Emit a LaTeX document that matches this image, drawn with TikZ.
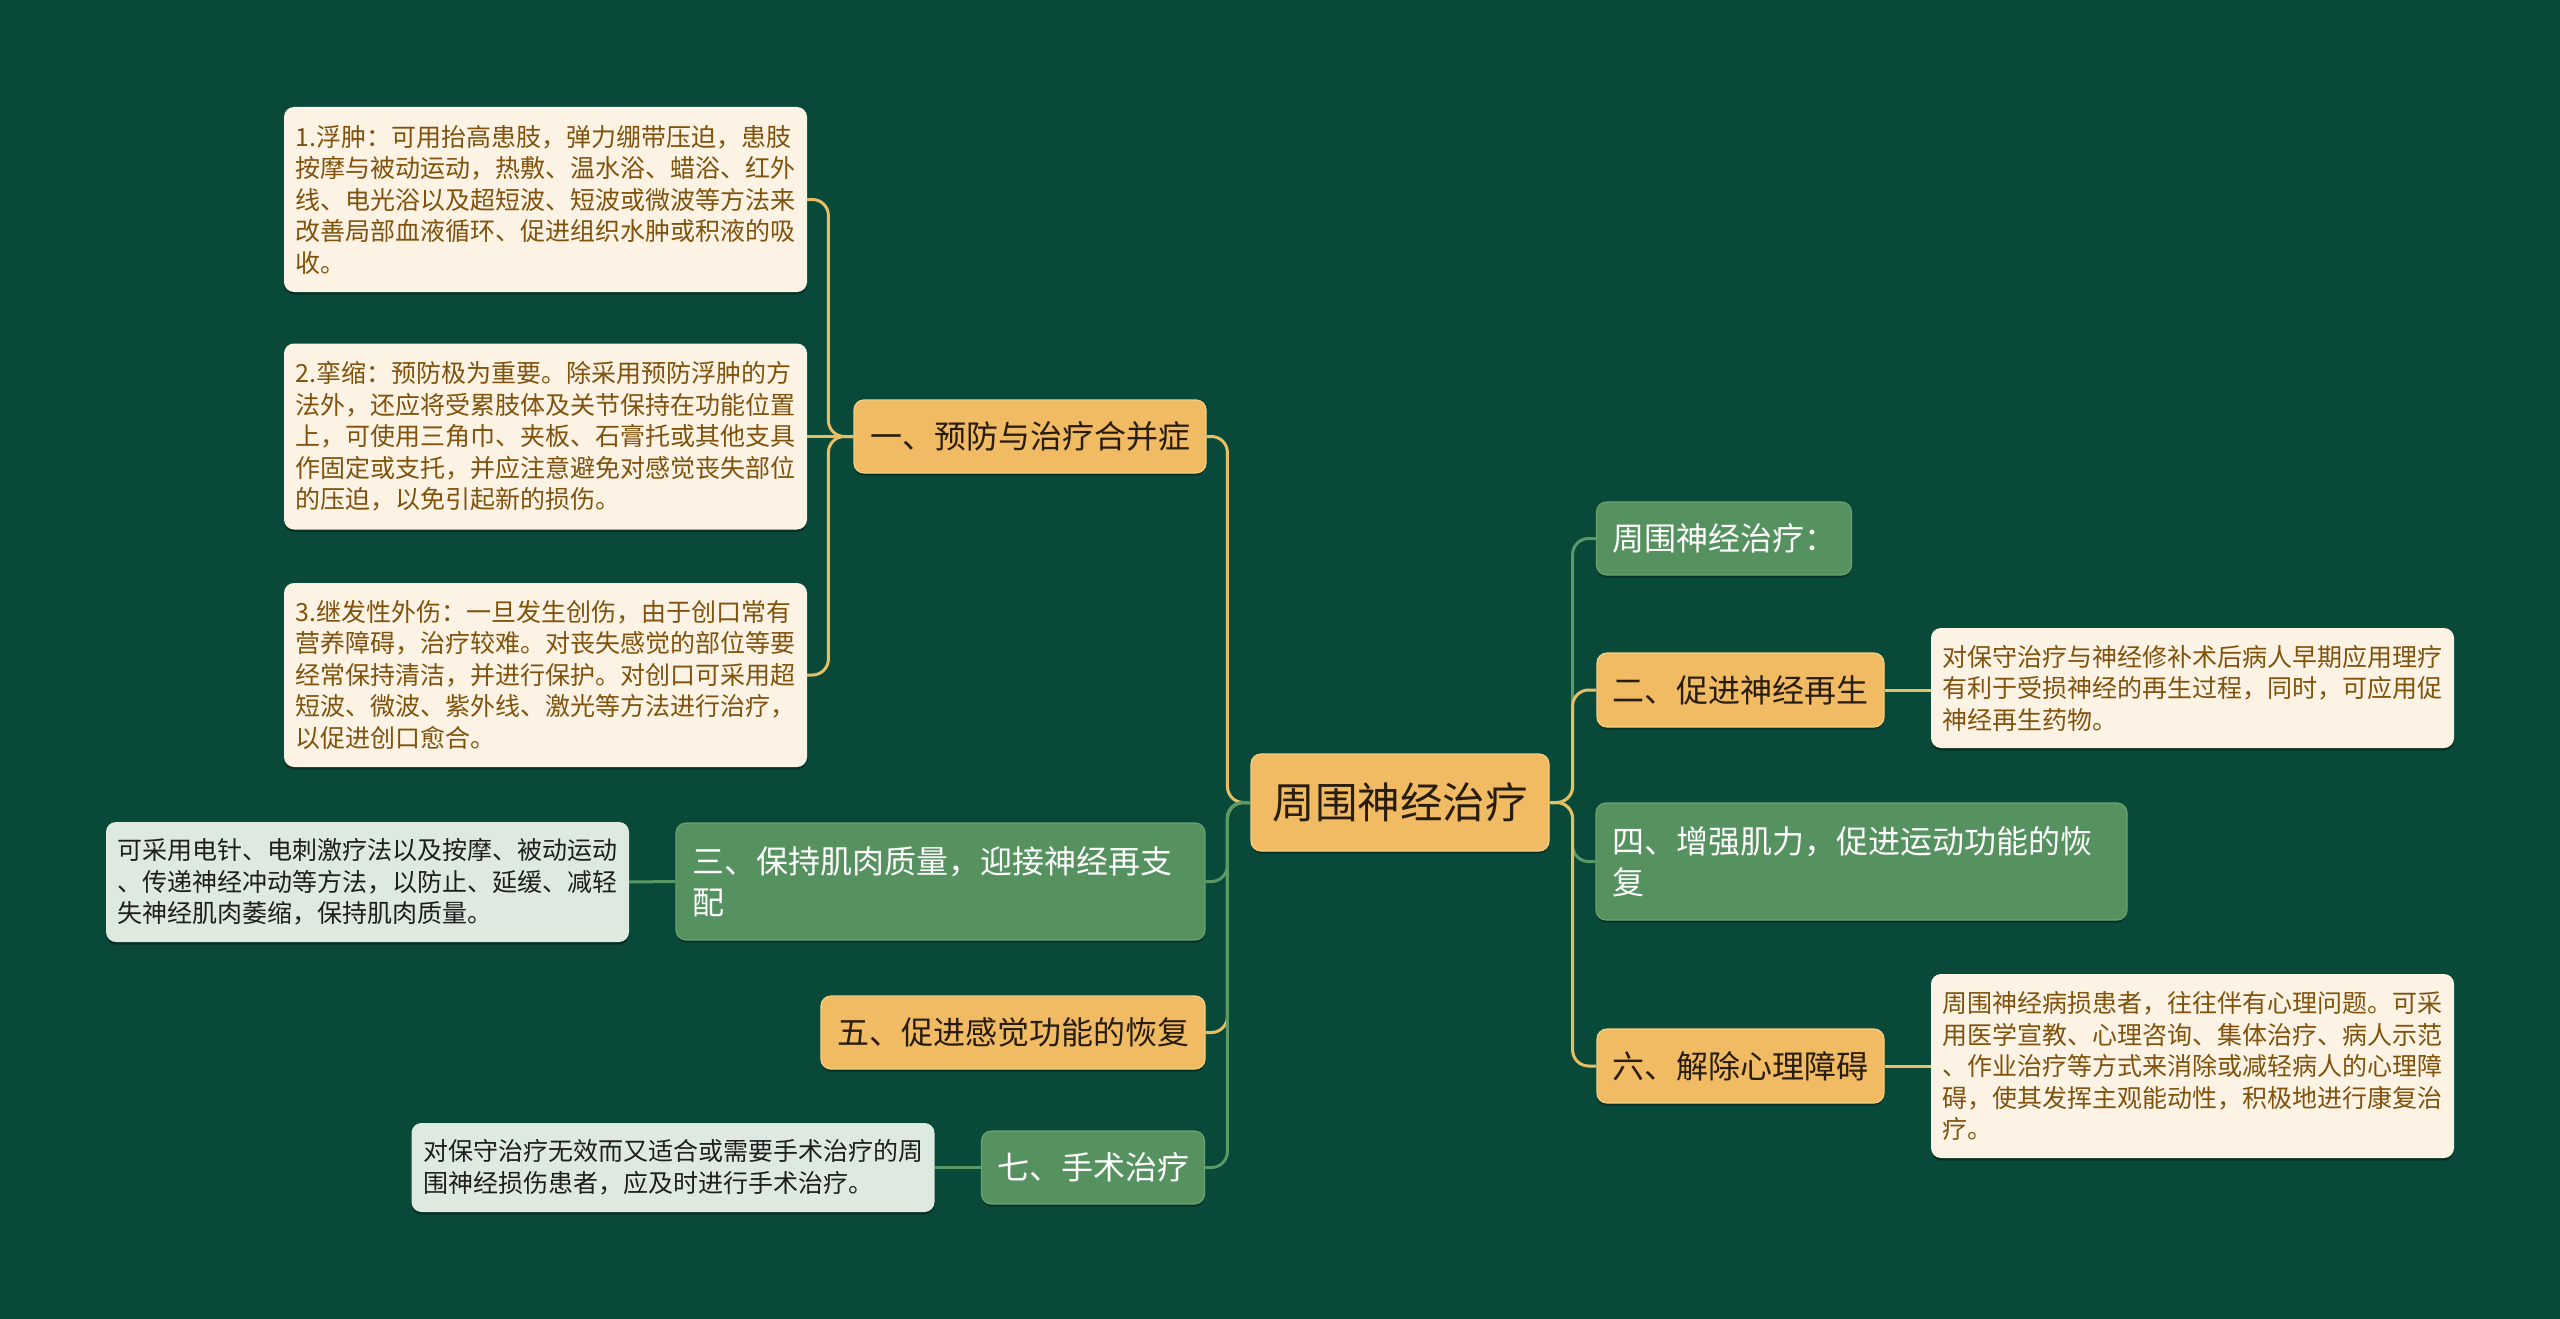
\documentclass[tikz,border=0pt]{standalone}
\usepackage{fontspec}
\setmainfont{Noto Sans CJK SC}
\usetikzlibrary{shadows}
\definecolor{bgc}{RGB}{8,73,58}
\definecolor{orF}{RGB}{240,187,98}
\definecolor{orD}{RGB}{246,208,128}
\definecolor{orT}{RGB}{40,28,12}
\definecolor{grF}{RGB}{85,146,95}
\definecolor{grD}{RGB}{104,162,112}
\definecolor{crF}{RGB}{253,243,229}
\definecolor{crT}{RGB}{128,82,12}
\definecolor{lgF}{RGB}{222,234,224}
\definecolor{lgT}{RGB}{30,30,30}
\definecolor{orL}{RGB}{232,190,98}
\definecolor{grL}{RGB}{90,152,102}
\tikzset{
  boxbase/.style={rounded corners=10pt, anchor=center, inner ysep=0pt,
    drop shadow={shadow xshift=0pt, shadow yshift=-2.5pt, opacity=0.35, fill=black}},
  mainbox/.style={boxbase, fill=orF, draw=orD, line width=1.2pt, text=orT,
    font=\fontsize{42.5}{50}\selectfont, inner xsep=15pt},
  orbox/.style={boxbase, fill=orF, draw=orD, line width=1.2pt, text=orT,
    font=\fontsize{32}{41}\selectfont, inner xsep=15.5pt},
  grbox/.style={boxbase, fill=grF, draw=grD, line width=1.2pt, text=white,
    font=\fontsize{32}{41}\selectfont, inner xsep=15.5pt},
  crleaf/.style={boxbase, fill=crF, text=crT, font=\fontsize{25}{31.5}\selectfont,
    text width=500pt, align=left, inner xsep=11.5pt, minimum width=523pt},
  lgleaf/.style={boxbase, fill=lgF, text=lgT, font=\fontsize{25}{31.5}\selectfont,
    text width=500pt, align=left, inner xsep=11.5pt, minimum width=523pt},
  oline/.style={draw=orL, line width=3pt, rounded corners=16pt},
  gline/.style={draw=grL, line width=3pt, rounded corners=16pt}
}
\begin{document}
\begin{tikzpicture}[x=1pt,y=-1pt]
\useasboundingbox (0,0) rectangle (2560,1319);
\fill[bgc] (0,0) rectangle (2560,1319);

% center
\node[mainbox, minimum width=298pt, minimum height=97pt] (c) at (1400,802.5) {周围神经治疗};

% left branches
\node[orbox, minimum width=352pt, minimum height=73pt] (n1) at (1030,436.5) {一、预防与治疗合并症};
\node[grbox, text width=497pt, align=left, inner xsep=16pt, minimum height=117pt] (n3) at (940.5,881.5) {三、保持肌肉质量，迎接神经再支\\配};
\node[orbox, minimum width=384pt, minimum height=73pt] (n5) at (1013,1032.5) {五、促进感觉功能的恢复};
\node[grbox, minimum width=222pt, minimum height=73pt] (n7) at (1093,1167.5) {七、手术治疗};

% right branches
\node[grbox, minimum width=254pt, minimum height=73pt] (r0) at (1724,538.5) {周围神经治疗：};
\node[orbox, minimum width=287pt, minimum height=74pt] (n2) at (1740.5,690) {二、促进神经再生};
\node[grbox, text width=499pt, align=left, inner xsep=16pt, minimum height=117pt] (n4) at (1861.5,861.5) {四、增强肌力，促进运动功能的恢\\复};
\node[orbox, minimum width=287pt, minimum height=74pt] (n6) at (1740.5,1066) {六、解除心理障碍};

% leaves
\node[crleaf, minimum height=185pt] (l1) at (545.5,199.5) {1.浮肿：可用抬高患肢，弹力绷带压迫，患肢\\按摩与被动运动，热敷、温水浴、蜡浴、红外\\线、电光浴以及超短波、短波或微波等方法来\\改善局部血液循环、促进组织水肿或积液的吸\\收。};
\node[crleaf, minimum height=186pt] (l2) at (545.5,436.5) {2.挛缩：预防极为重要。除采用预防浮肿的方\\法外，还应将受累肢体及关节保持在功能位置\\上，可使用三角巾、夹板、石膏托或其他支具\\作固定或支托，并应注意避免对感觉丧失部位\\的压迫，以免引起新的损伤。};
\node[crleaf, minimum height=184pt] (l3) at (545.5,675) {3.继发性外伤：一旦发生创伤，由于创口常有\\营养障碍，治疗较难。对丧失感觉的部位等要\\经常保持清洁，并进行保护。对创口可采用超\\短波、微波、紫外线、激光等方法进行治疗，\\以促进创口愈合。};
\node[lgleaf, minimum height=120pt] (l3b) at (367.5,882) {可采用电针、电刺激疗法以及按摩、被动运动\\、传递神经冲动等方法，以防止、延缓、减轻\\失神经肌肉萎缩，保持肌肉质量。};
\node[lgleaf, minimum height=89pt] (l7) at (673,1167.5) {对保守治疗无效而又适合或需要手术治疗的周\\围神经损伤患者，应及时进行手术治疗。};
\node[crleaf, minimum height=120pt] (l2r) at (2192.5,688) {对保守治疗与神经修补术后病人早期应用理疗\\有利于受损神经的再生过程，同时，可应用促\\神经再生药物。};
\node[crleaf, minimum height=184pt] (l6) at (2192.5,1066) {周围神经病损患者，往往伴有心理问题。可采\\用医学宣教、心理咨询、集体治疗、病人示范\\、作业治疗等方式来消除或减轻病人的心理障\\碍，使其发挥主观能动性，积极地进行康复治\\疗。};

% connectors: center to left branches
\draw[oline] (c.west) -- ++(-23,0) |- (n1.east);
\draw[gline] (c.west) -- ++(-23,0) |- (n3.east);
\draw[oline] (c.west) -- ++(-23,0) |- (n5.east);
\draw[gline] (c.west) -- ++(-23,0) |- (n7.east);
% center to right branches
\draw[gline] (c.east) -- ++(23,0) |- (r0.west);
\draw[oline] (c.east) -- ++(23,0) |- (n2.west);
\draw[gline] (c.east) -- ++(23,0) |- (n4.west);
\draw[oline] (c.east) -- ++(23,0) |- (n6.west);
% branch to leaves
\draw[oline] (n1.west) -- ++(-25,0) |- (l1.east);
\draw[oline] (n1.west) -- (l2.east);
\draw[oline] (n1.west) -- ++(-25,0) |- (l3.east);
\draw[gline] (n3.west) -- (l3b.east);
\draw[gline] (n7.west) -- (l7.east);
\draw[oline] (n2.east) -- (n2.east -| l2r.west);
\draw[oline] (n6.east) -- (l6.west);
\end{tikzpicture}
\end{document}
